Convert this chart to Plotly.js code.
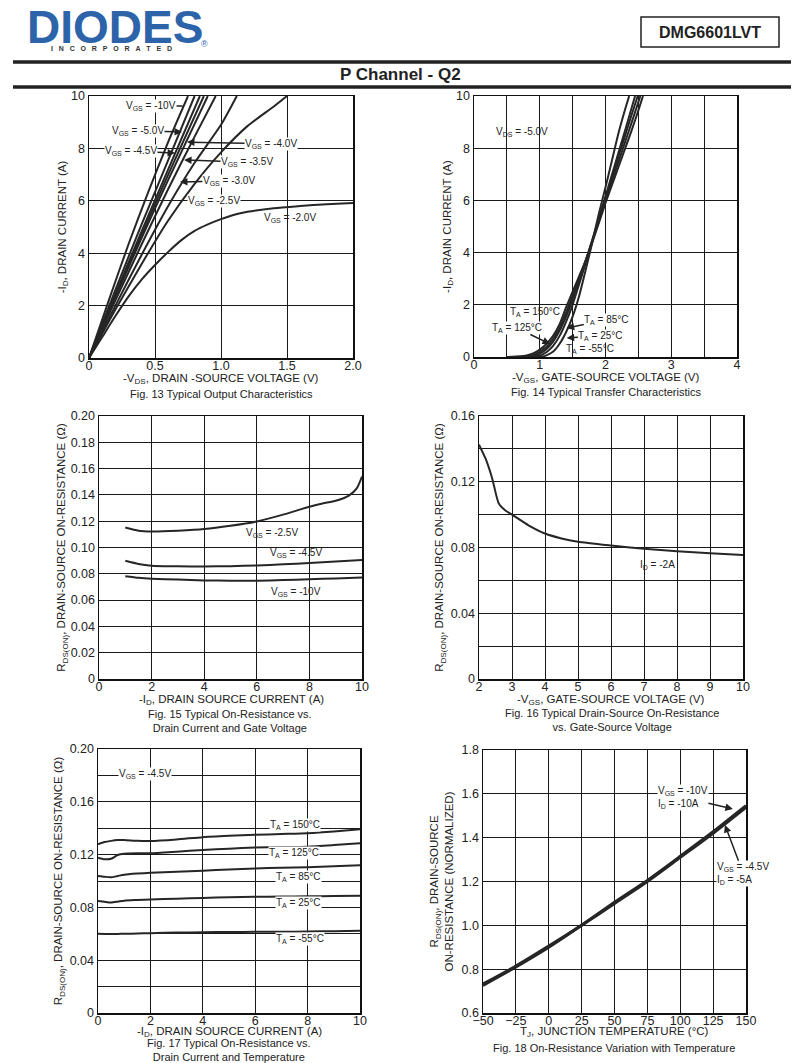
<!DOCTYPE html>
<html><head><meta charset="utf-8">
<script src="https://cdn.plot.ly/plotly-3.0.1.min.js"></script>
<style>html,body{margin:0;padding:0;background:#fff;}#chart{width:804px;height:1063px;}</style>
</head><body><div id="chart"></div>
<script>
// ---------- DATA ----------
// Fig 13: Output characteristics (-VDS in V, -ID in A)
const fig13Names = ["V<sub>GS</sub> = -10V","V<sub>GS</sub> = -8.0V","V<sub>GS</sub> = -5.0V","V<sub>GS</sub> = -4.5V","V<sub>GS</sub> = -4.0V","V<sub>GS</sub> = -3.5V","V<sub>GS</sub> = -3.0V","V<sub>GS</sub> = -2.5V","V<sub>GS</sub> = -2.0V"];
const vds_10 = [0,0.15,0.3,0.45,0.6,0.75];      const id_10 = [0,2.2,4.35,6.35,8.25,10];
const vds_8  = [0,0.2,0.4,0.6,0.8];             const id_8  = [0,2.6,5.12,7.55,10];
const vds_5  = [0,0.2,0.4,0.6,0.84];            const id_5  = [0,2.45,4.85,7.2,10];
const vds_45 = [0,0.2,0.4,0.6,0.87];            const id_45 = [0,2.38,4.72,7.0,10];
const vds_4  = [0,0.2,0.4,0.6,0.9];             const id_4  = [0,2.32,4.6,6.8,10];
const vds_35 = [0,0.2,0.4,0.6,0.8,0.96];        const id_35 = [0,2.2,4.35,6.45,8.45,10];
const vds_3  = [0,0.2,0.4,0.6,0.8,1.0,1.12];    const id_3  = [0,2.0,3.95,5.8,7.45,8.9,10];
const vds_25 = [0,0.2,0.4,0.6,0.8,1.0,1.2,1.4,1.5]; const id_25 = [0,1.85,3.6,5.25,6.65,7.85,8.85,9.6,10];
const vds_2  = [0,0.1,0.2,0.3,0.4,0.5,0.6,0.7,0.8,0.9,1.0,1.1,1.2,1.4,1.6,1.8,2.0];
const id_2   = [0,0.8,1.6,2.35,3.0,3.55,4.05,4.5,4.85,5.1,5.3,5.47,5.58,5.72,5.8,5.87,5.92];

// Fig 14: Transfer characteristics (-VGS in V, -ID in A)
const fig14Names = ["T<sub>A</sub> = 150°C","T<sub>A</sub> = 125°C","T<sub>A</sub> = 85°C","T<sub>A</sub> = 25°C","T<sub>A</sub> = -55°C"];
const vgs_150 = [0.5,0.7,0.8,0.9,1.0,1.1,1.2,1.3,1.4,1.5,1.6,1.7,1.8,1.9,2.0,2.1,2.2,2.3,2.4,2.5,2.57];
const id_150  = [0,0.02,0.06,0.14,0.28,0.5,0.8,1.25,1.9,2.5,3.1,3.7,4.4,5.15,5.9,6.6,7.3,8.0,8.7,9.45,10];
const vgs_125 = [0.5,0.8,0.9,1.0,1.1,1.2,1.3,1.4,1.5,1.6,1.7,1.8,1.9,2.0,2.1,2.2,2.3,2.4,2.53];
const id_125  = [0,0.03,0.08,0.2,0.38,0.68,1.1,1.7,2.35,3.0,3.7,4.45,5.2,6.0,6.75,7.5,8.25,9.0,10];
const vgs_85  = [0.5,0.9,1.0,1.1,1.2,1.3,1.4,1.5,1.6,1.7,1.8,1.9,2.0,2.1,2.2,2.3,2.4,2.49];
const id_85   = [0,0.04,0.13,0.3,0.58,1.0,1.55,2.2,2.95,3.7,4.5,5.3,6.1,6.9,7.7,8.5,9.3,10];
const vgs_25  = [0.6,1.0,1.1,1.2,1.3,1.4,1.5,1.6,1.7,1.8,1.9,2.0,2.1,2.2,2.3,2.45];
const id_25c  = [0,0.05,0.18,0.42,0.8,1.35,2.0,2.8,3.6,4.45,5.3,6.15,7.0,7.85,8.7,10];
const vgs_m55 = [0.7,1.05,1.1,1.2,1.3,1.4,1.5,1.6,1.7,1.8,1.9,2.0,2.1,2.2,2.3,2.36];
const id_m55  = [0,0.02,0.06,0.2,0.5,0.95,1.55,2.35,3.35,4.4,5.5,6.5,7.55,8.6,9.5,10];

// Fig 15: RDS(ON) vs ID and VGS
const fig15Names = ["V<sub>GS</sub> = -2.5V","V<sub>GS</sub> = -4.5V","V<sub>GS</sub> = -10V"];
const id15a  = [1,1.5,2,3,4,5,6,7,8,8.5,9,9.5,9.8,10];
const r15_25 = [0.1152,0.1128,0.1122,0.1128,0.1140,0.1165,0.1198,0.1250,0.1310,0.1335,0.1355,0.1395,0.1450,0.1540];
const id15b  = [1,1.5,2,3,4,5,6,7,8,9,10];
const r15_45 = [0.0899,0.0875,0.0862,0.0857,0.0856,0.0858,0.0864,0.0872,0.0882,0.0893,0.0905];
const r15_10 = [0.0782,0.0770,0.0763,0.0756,0.0750,0.0748,0.0748,0.0752,0.0758,0.0765,0.0772];

// Fig 16: RDS(ON) vs VGS, ID = -2A
const vgs16 = [2,2.2,2.4,2.6,2.8,3,3.5,4,4.5,5,6,7,8,9,10];
const r16   = [0.1426,0.134,0.122,0.1067,0.1025,0.1,0.0935,0.0885,0.0855,0.0835,0.0812,0.0792,0.0777,0.0765,0.0755];

// Fig 17: RDS(ON) vs ID and temperature, VGS = -4.5V
const fig17Names = ["T<sub>A</sub> = 150°C","T<sub>A</sub> = 125°C","T<sub>A</sub> = 85°C","T<sub>A</sub> = 25°C","T<sub>A</sub> = -55°C"];
const id17   = [0,0.25,0.5,0.75,1,1.5,2,3,4,5,6,7,8,9,10];
const r17_150 = [0.1278,0.1295,0.1304,0.131,0.1311,0.1304,0.1303,0.1315,0.1332,0.1342,0.135,0.1356,0.1362,0.1375,0.1392];
const r17_125 = [0.1177,0.1165,0.1168,0.1197,0.1207,0.121,0.121,0.1222,0.1235,0.1245,0.1254,0.1257,0.126,0.1272,0.1286];
const r17_85  = [0.1038,0.1032,0.1028,0.1038,0.1048,0.1056,0.1062,0.107,0.1078,0.1088,0.1095,0.11,0.1104,0.1111,0.1119];
const r17_25  = [0.0848,0.0842,0.0837,0.0843,0.0851,0.0856,0.086,0.0866,0.0871,0.0877,0.088,0.0882,0.0884,0.0886,0.0889];
const r17_m55 = [0.0600,0.0599,0.0598,0.0599,0.0600,0.0602,0.0605,0.0609,0.0612,0.0614,0.0615,0.0616,0.0617,0.0620,0.0623];

// Fig 18: normalized RDS(ON) vs junction temperature
const tj18   = [-50,-25,0,25,50,75,100,125,150];
const rn18_10 = [0.726,0.81,0.9,1.0,1.105,1.205,1.315,1.427,1.546];
const rn18_45 = [0.732,0.814,0.905,1.0,1.1,1.2,1.31,1.42,1.538];

// Tick labels
const ticks13x = [0,0.5,1.0,1.5,2.0];   const ticks13xText = ["0","0.5","1.0","1.5","2.0"];
const ticks13y = [0,2,4,6,8,10];
const ticks14x = [0,1,2,3,4];
const ticks15y = [0,0.02,0.04,0.06,0.08,0.10,0.12,0.14,0.16,0.18,0.20];
const ticks15yText = ["0","0.02","0.04","0.06","0.08","0.10","0.12","0.14","0.16","0.18","0.20"];
const ticks16x = [2,3,4,5,6,7,8,9,10];
const ticks16y = [0,0.04,0.08,0.12,0.16]; const ticks16yText = ["0","0.04","0.08","0.12","0.16"];
const ticks17y = [0,0.04,0.08,0.12,0.16,0.20]; const ticks17yText = ["0","0.04","0.08","0.12","0.16","0.20"];
const ticks18x = [-50,-25,0,25,50,75,100,125,150];
const ticks18y = [0.6,0.8,1.0,1.2,1.4,1.6,1.8]; const ticks18yText = ["0.6","0.8","1.0","1.2","1.4","1.6","1.8"];

// ---------- LAYOUT HELPERS ----------
const W = 804, H = 1063;
const fx = p => p / W;
const fy = p => 1 - p / H;
const FONT = "Liberation Sans, Arial, sans-serif";
const LC = "#262626";

function ax(x0, x1, extra) {
  return Object.assign({
    domain: [fx(x0), fx(x1)], showline: true, mirror: true, linecolor: "#111", linewidth: 1.5,
    showgrid: true, gridcolor: "#1a1a1a", gridwidth: 1, zeroline: false, ticks: "",
    ticklabelstandoff: -5,
    tickfont: {family: FONT, size: 12.5, color: "#222"}, fixedrange: true, automargin: false
  }, extra);
}
function ay(y0, y1, extra) {
  return Object.assign({
    domain: [fy(y1), fy(y0)], showline: true, mirror: true, linecolor: "#111", linewidth: 1.5,
    showgrid: true, gridcolor: "#1a1a1a", gridwidth: 1, zeroline: false, ticks: "",
    tickfont: {family: FONT, size: 12.5, color: "#222"}, fixedrange: true, automargin: false
  }, extra);
}
const tfont = {family: FONT, size: 11.5, color: "#222"};

function line(x, y, xa, ya, name, w) {
  return {x: x, y: y, xaxis: xa, yaxis: ya, type: "scatter", mode: "lines", name: name,
          line: {color: LC, width: w || 2, shape: "spline", smoothing: 0.6}, showlegend: false, hoverinfo: "skip"};
}

const traces = [
  line(vds_10, id_10, "x", "y", fig13Names[0]),
  line(vds_8, id_8, "x", "y", fig13Names[1]),
  line(vds_5, id_5, "x", "y", fig13Names[2]),
  line(vds_45, id_45, "x", "y", fig13Names[3]),
  line(vds_4, id_4, "x", "y", fig13Names[4]),
  line(vds_35, id_35, "x", "y", fig13Names[5]),
  line(vds_3, id_3, "x", "y", fig13Names[6]),
  line(vds_25, id_25, "x", "y", fig13Names[7]),
  line(vds_2, id_2, "x", "y", fig13Names[8]),
  line(vgs_150, id_150, "x2", "y2", fig14Names[0]),
  line(vgs_125, id_125, "x2", "y2", fig14Names[1]),
  line(vgs_85, id_85, "x2", "y2", fig14Names[2]),
  line(vgs_25, id_25c, "x2", "y2", fig14Names[3]),
  line(vgs_m55, id_m55, "x2", "y2", fig14Names[4]),
  line(id15a, r15_25, "x3", "y3", fig15Names[0]),
  line(id15b, r15_45, "x3", "y3", fig15Names[1]),
  line(id15b, r15_10, "x3", "y3", fig15Names[2]),
  line(vgs16, r16, "x4", "y4", "I<sub>D</sub> = -2A"),
  line(id17, r17_150, "x5", "y5", fig17Names[0]),
  line(id17, r17_125, "x5", "y5", fig17Names[1]),
  line(id17, r17_85, "x5", "y5", fig17Names[2]),
  line(id17, r17_25, "x5", "y5", fig17Names[3]),
  line(id17, r17_m55, "x5", "y5", fig17Names[4]),
  line(tj18, rn18_10, "x6", "y6", "V<sub>GS</sub> = -10V, I<sub>D</sub> = -10A", 3),
  line(tj18, rn18_45, "x6", "y6", "V<sub>GS</sub> = -4.5V, I<sub>D</sub> = -5A", 3)
];

const lab = {family: FONT, size: 10, color: "#222"};
function note(xr, yr, x, y, text, opts) {
  return Object.assign({xref: xr, yref: yr, x: x, y: y, text: text, showarrow: false, font: lab,
                        bgcolor: "rgba(255,255,255,0)", borderpad: 0}, opts || {});
}
function arrowNote(xr, yr, hx, hy, tx, ty, text, head) {
  return {xref: xr, yref: yr, axref: xr, ayref: yr, x: hx, y: hy, ax: tx, ay: ty, text: text,
          showarrow: true, arrowhead: head === undefined ? 2 : head, arrowsize: 1, arrowwidth: 1.5,
          arrowcolor: "#222", font: lab, bgcolor: "#fff", borderpad: 0};
}
function pnote(px_, py_, text, size, opts) {
  return Object.assign({xref: "paper", yref: "paper", x: fx(px_), y: fy(py_), text: text, showarrow: false,
                        xanchor: "center", yanchor: "middle", font: {family: FONT, size: size, color: "#222"}}, opts || {});
}

const annotations = [
  // Header
  pnote(115, 27, "<b>DIODES</b>", 46, {font: {family: FONT, size: 46, color: "#2c63a9"}}),
  pnote(111, 49, "<b>I\u00a0\u00a0\u00a0N\u00a0\u00a0\u00a0C\u00a0\u00a0\u00a0O\u00a0\u00a0\u00a0R\u00a0\u00a0\u00a0P\u00a0\u00a0\u00a0O\u00a0\u00a0\u00a0R\u00a0\u00a0\u00a0A\u00a0\u00a0\u00a0T\u00a0\u00a0\u00a0E\u00a0\u00a0\u00a0D</b>", 7, {font: {family: FONT, size: 7, color: "#333"}}),
  pnote(204, 44, "®", 9, {font: {family: FONT, size: 9, color: "#2c63a9"}}),
  pnote(710, 32, "<b>DMG6601LVT</b>", 16),
  pnote(400, 74, "<b>P Channel - Q2</b>", 17),
  // X axis titles
  pnote(221, 379, "-V<sub>DS</sub>, DRAIN -SOURCE VOLTAGE (V)", 11.5),
  pnote(606, 378, "-V<sub>GS</sub>, GATE-SOURCE VOLTAGE (V)", 11.5),
  pnote(231, 700, "-I<sub>D</sub>, DRAIN SOURCE CURRENT (A)", 11.5),
  pnote(611, 700, "-V<sub>GS</sub>, GATE-SOURCE VOLTAGE (V)", 11.5),
  pnote(229, 1032, "-I<sub>D</sub>, DRAIN SOURCE CURRENT (A)", 11.5),
  pnote(614, 1032, "T<sub>J</sub>, JUNCTION TEMPERATURE (°C)", 11.5),
  // Captions
  pnote(221, 394, "Fig. 13 Typical Output Characteristics", 11),
  pnote(606, 392, "Fig. 14 Typical Transfer Characteristics", 11),
  pnote(230, 721, "Fig. 15 Typical On-Resistance vs.<br>Drain Current and Gate Voltage", 11),
  pnote(612, 720, "Fig. 16 Typical Drain-Source On-Resistance<br>vs. Gate-Source Voltage", 11),
  pnote(229, 1050, "Fig. 17 Typical On-Resistance vs.<br>Drain Current and Temperature", 11),
  pnote(614, 1048, "Fig. 18 On-Resistance Variation with Temperature", 11),
  // Fig 13 labels
  arrowNote("x", "y", 0.71, 9.62, 0.47, 9.62, "V<sub>GS</sub> = -10V", 0),
  arrowNote("x", "y", 0.705, 8.63, 0.371, 8.66, "V<sub>GS</sub> = -5.0V"),
  arrowNote("x", "y", 0.652, 7.82, 0.318, 7.9, "V<sub>GS</sub> = -4.5V"),
  arrowNote("x", "y", 0.742, 8.24, 1.379, 8.17, "V<sub>GS</sub> = -4.0V"),
  arrowNote("x", "y", 0.72, 7.56, 1.197, 7.48, "V<sub>GS</sub> = -3.5V"),
  arrowNote("x", "y", 0.689, 6.72, 1.06, 6.76, "V<sub>GS</sub> = -3.0V"),
  note("x", "y", 0.947, 5.99, "V<sub>GS</sub> = -2.5V", {bgcolor: "#fff"}),
  note("x", "y", 1.52, 5.34, "V<sub>GS</sub> = -2.0V"),
  // Fig 14 labels
  note("x2", "y2", 0.73, 8.62, "V<sub>DS</sub> = -5.0V"),
  note("x2", "y2", 0.93, 1.72, "T<sub>A</sub> = 150°C"),
  arrowNote("x2", "y2", 1.156, 0.5, 0.65, 1.11, "T<sub>A</sub> = 125°C"),
  arrowNote("x2", "y2", 1.41, 1.11, 2.02, 1.42, "T<sub>A</sub> = 85°C"),
  arrowNote("x2", "y2", 1.41, 0.73, 1.93, 0.8, "T<sub>A</sub> = 25°C"),
  note("x2", "y2", 1.76, 0.31, "T<sub>A</sub> = -55°C"),
  // Fig 15 labels
  note("x3", "y3", 6.58, 0.1108, "V<sub>GS</sub> = -2.5V"),
  note("x3", "y3", 7.49, 0.096, "V<sub>GS</sub> = -4.5V"),
  note("x3", "y3", 7.49, 0.0659, "V<sub>GS</sub> = -10V"),
  // Fig 16 label
  note("x4", "y4", 7.42, 0.0693, "I<sub>D</sub> = -2A"),
  // Fig 17 labels
  note("x5", "y5", 1.79, 0.181, "V<sub>GS</sub> = -4.5V", {bgcolor: "#fff"}),
  note("x5", "y5", 7.52, 0.1427, "T<sub>A</sub> = 150°C", {bgcolor: "#fff"}),
  note("x5", "y5", 7.48, 0.121, "T<sub>A</sub> = 125°C", {bgcolor: "#fff"}),
  note("x5", "y5", 7.64, 0.1028, "T<sub>A</sub> = 85°C", {bgcolor: "#fff"}),
  note("x5", "y5", 7.64, 0.0831, "T<sub>A</sub> = 25°C", {bgcolor: "#fff"}),
  note("x5", "y5", 7.71, 0.0563, "T<sub>A</sub> = -55°C", {bgcolor: "#fff"}),
  // Fig 18 labels
  arrowNote("x6", "y6", 140, 1.531, 102, 1.585, "V<sub>GS</sub> = -10V<br>I<sub>D</sub> = -10A"),
  arrowNote("x6", "y6", 134, 1.458, 148, 1.235, "V<sub>GS</sub> = -4.5V<br>I<sub>D</sub> = -5A")
];
annotations.forEach(a => { if (a.text && a.text.indexOf("<br>") >= 0 && a.xref !== "paper") a.align = "left"; });

const shapes = [
  {type: "rect", xref: "paper", yref: "paper", x0: fx(641), x1: fx(779), y0: fy(47), y1: fy(17), line: {color: "#222", width: 1.5}},
  {type: "line", xref: "paper", yref: "paper", x0: fx(13), x1: fx(791), y0: fy(62), y1: fy(62), line: {color: "#222", width: 3.5}},
  {type: "line", xref: "paper", yref: "paper", x0: fx(13), x1: fx(791), y0: fy(87), y1: fy(87), line: {color: "#222", width: 3.5}}
];

const layout = {
  width: W, height: H, margin: {l: 0, r: 0, t: 0, b: 0}, paper_bgcolor: "#fff", plot_bgcolor: "#fff",
  showlegend: false, font: {family: FONT, color: "#222"},
  xaxis: ax(89, 353, {anchor: "y", range: [0, 2], tickvals: ticks13x, ticktext: ticks13xText}),
  yaxis: ay(96, 358, {anchor: "x", range: [0, 10], tickvals: ticks13y,
    title: {text: "-I<sub>D</sub>, DRAIN CURRENT (A)", font: tfont, standoff: 2}}),
  xaxis2: ax(474, 737, {anchor: "y2", range: [0, 4], tickvals: ticks14x, minor: {dtick: 0.5, showgrid: true, gridcolor: "#1a1a1a", gridwidth: 1, ticks: ""}}),
  yaxis2: ay(96, 357, {anchor: "x2", range: [0, 10], tickvals: ticks13y,
    title: {text: "-I<sub>D</sub>, DRAIN CURRENT (A)", font: tfont, standoff: 2}}),
  xaxis3: ax(99, 362, {anchor: "y3", range: [0, 10], dtick: 2}),
  yaxis3: ay(416, 679, {anchor: "x3", range: [0, 0.2], tickvals: ticks15y, ticktext: ticks15yText,
    title: {text: "R<sub>DS(ON)</sub>, DRAIN-SOURCE ON-RESISTANCE (Ω)", font: tfont, standoff: 2}}),
  xaxis4: ax(479, 743, {anchor: "y4", range: [2, 10], tickvals: ticks16x}),
  yaxis4: ay(416, 679, {anchor: "x4", range: [0, 0.16], tickvals: ticks16y, ticktext: ticks16yText,
    minor: {dtick: 0.02, showgrid: true, gridcolor: "#1a1a1a", gridwidth: 1, ticks: ""},
    title: {text: "R<sub>DS(ON)</sub>, DRAIN-SOURCE ON-RESISTANCE (Ω)", font: tfont, standoff: 4}}),
  xaxis5: ax(98, 360, {anchor: "y5", range: [0, 10], dtick: 2}),
  yaxis5: ay(749, 1013, {anchor: "x5", range: [0, 0.2], tickvals: ticks17y, ticktext: ticks17yText,
    minor: {dtick: 0.02, showgrid: true, gridcolor: "#1a1a1a", gridwidth: 1, ticks: ""},
    title: {text: "R<sub>DS(ON)</sub>, DRAIN-SOURCE ON-RESISTANCE (Ω)", font: tfont, standoff: 4}}),
  xaxis6: ax(483, 746, {anchor: "y6", range: [-50, 150], tickvals: ticks18x}),
  yaxis6: ay(750, 1013, {anchor: "x6", range: [0.6, 1.8], tickvals: ticks18y, ticktext: ticks18yText,
    title: {text: "R<sub>DS(ON)</sub>, DRAIN-SOURCE<br>ON-RESISTANCE (NORMALIZED)", font: tfont, standoff: 5}}),
  annotations: annotations,
  shapes: shapes
};

Plotly.newPlot("chart", traces, layout, {staticPlot: true, displayModeBar: false});
</script></body></html>
